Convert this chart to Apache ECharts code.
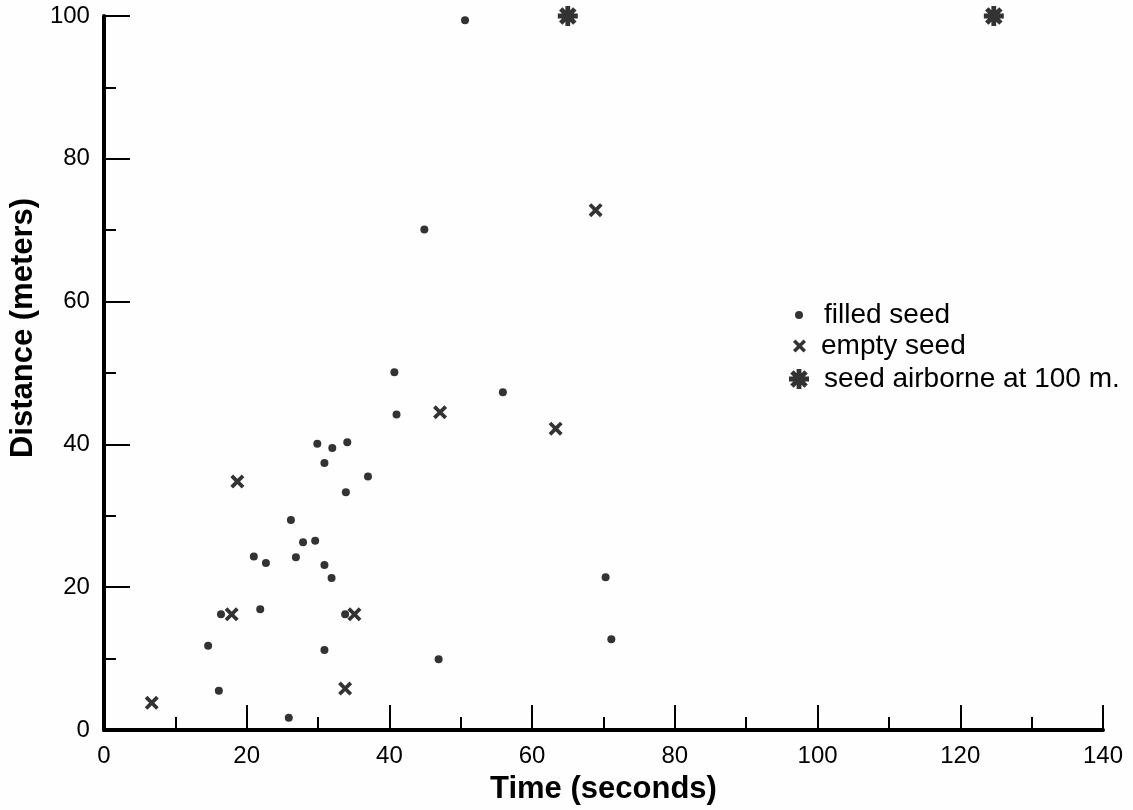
<!DOCTYPE html>
<html>
<head>
<meta charset="utf-8">
<script src="https://cdn.jsdelivr.net/npm/echarts@6/dist/echarts.min.js"></script>
<style>
html,body{margin:0;padding:0;background:#fefefe;}
#chart{width:1133px;height:810px;}
</style>
</head>
<body>
<div id="chart"></div>
<script>
// Data
const filledX = [50.6, 44.9, 55.9, 40.7, 41.0, 29.9, 32.0, 34.1, 30.9, 37.0, 33.9, 26.2, 27.9, 29.6, 21.0, 22.7, 26.9, 30.9, 31.9, 16.4, 21.9, 33.8, 14.6, 30.9, 16.1, 25.9, 70.3, 71.1, 46.9];
const filledY = [99.4, 70.1, 47.3, 50.1, 44.2, 40.1, 39.5, 40.3, 37.4, 35.5, 33.3, 29.4, 26.3, 26.5, 24.3, 23.4, 24.2, 23.1, 21.3, 16.2, 16.9, 16.2, 11.8, 11.2, 5.5, 1.7, 21.4, 12.7, 9.9];
const emptyX = [6.7, 18.7, 17.9, 35.1, 33.8, 47.1, 63.3, 68.9];
const emptyY = [3.8, 34.8, 16.2, 16.2, 5.8, 44.5, 42.2, 72.8];
const airX = [65.0, 124.7];
const airY = [100, 100];
const seriesNames = ['filled seed', 'empty seed', 'seed airborne at 100 m.'];
const xTicks = [0, 20, 40, 60, 80, 100, 120, 140];
const yTicks = [0, 20, 40, 60, 80, 100];

const zip = (xs, ys) => xs.map((x, i) => [x, ys[i]]);

const crossPath = 'path://M-3.1,-5L5,3.1L3.1,5L-5,-3.1Z M-5,3.1L3.1,-5L5,-3.1L-3.1,5Z';
const starPath = 'path://M-1.2,-5L1.2,-5L1.2,5L-1.2,5Z M-5,-1.2L5,-1.2L5,1.2L-5,1.2Z M-2.69,-4.39L4.39,2.69L2.69,4.39L-4.39,-2.69Z M-4.39,2.69L2.69,-4.39L4.39,-2.69L-2.69,4.39Z M-1.8,-1.8L1.8,-1.8L1.8,1.8L-1.8,1.8Z';

const ink = '#000';
const font = 'Liberation Sans, Arial, Helvetica, sans-serif';

const legendText = (pad) => ({fontSize: 28, fontFamily: font, color: ink, lineHeight: 30, padding: [0, 0, 0, pad]});

const chart = echarts.init(document.getElementById('chart'), null, {renderer: 'canvas'});
chart.setOption({
  backgroundColor: '#fefefe',
  animation: false,
  grid: {left: 103, right: 30, top: 16, bottom: 77, containLabel: false},
  legend: [
    {data: [seriesNames[0]], orient: 'vertical', left: 795, top: 300, padding: 0, itemWidth: 8, itemHeight: 8, textStyle: legendText(16), selectedMode: false},
    {data: [seriesNames[1]], orient: 'vertical', left: 793, top: 331, padding: 0, itemWidth: 13, itemHeight: 13, textStyle: legendText(10), selectedMode: false},
    {data: [seriesNames[2]], orient: 'vertical', left: 789, top: 364, padding: 0, itemWidth: 20, itemHeight: 20, textStyle: legendText(10), selectedMode: false}
  ],
  xAxis: {
    type: 'value', min: xTicks[0], max: xTicks[xTicks.length - 1], interval: 20,
    name: 'Time (seconds)', nameLocation: 'middle', nameGap: 44,
    nameTextStyle: {fontSize: 31, fontWeight: 'bold', fontFamily: font, color: ink},
    axisLine: {show: true, lineStyle: {color: ink, width: 4}},
    axisTick: {show: true, inside: true, length: 25, lineStyle: {color: ink, width: 2}},
    minorTick: {show: true, splitNumber: 2, length: 13, lineStyle: {color: ink, width: 2}},
    axisLabel: {fontSize: 24, fontFamily: font, color: ink, margin: 14},
    splitLine: {show: false}
  },
  yAxis: {
    type: 'value', min: yTicks[0], max: yTicks[yTicks.length - 1], interval: 20,
    name: 'Distance (meters)', nameLocation: 'middle', nameGap: 57, nameRotate: 90,
    nameTextStyle: {fontSize: 31, fontWeight: 'bold', fontFamily: font, color: ink, padding: [0, 0, 0, 90]},
    axisLine: {show: true, lineStyle: {color: ink, width: 4}},
    axisTick: {show: true, inside: true, length: 26, lineStyle: {color: ink, width: 2}},
    minorTick: {show: true, splitNumber: 2, length: 12, lineStyle: {color: ink, width: 2}},
    axisLabel: {fontSize: 24, fontFamily: font, color: ink, margin: 14},
    splitLine: {show: false}
  },
  series: [
    {name: seriesNames[0], type: 'scatter', data: zip(filledX, filledY), symbol: 'circle', symbolSize: 8, itemStyle: {color: ink}, clip: false},
    {name: seriesNames[1], type: 'scatter', data: zip(emptyX, emptyY), symbol: crossPath, symbolSize: 14, itemStyle: {color: ink}, clip: false},
    {name: seriesNames[2], type: 'scatter', data: zip(airX, airY), symbol: starPath, symbolSize: 20, itemStyle: {color: ink}, clip: false}
  ]
});
</script>
</body>
</html>
